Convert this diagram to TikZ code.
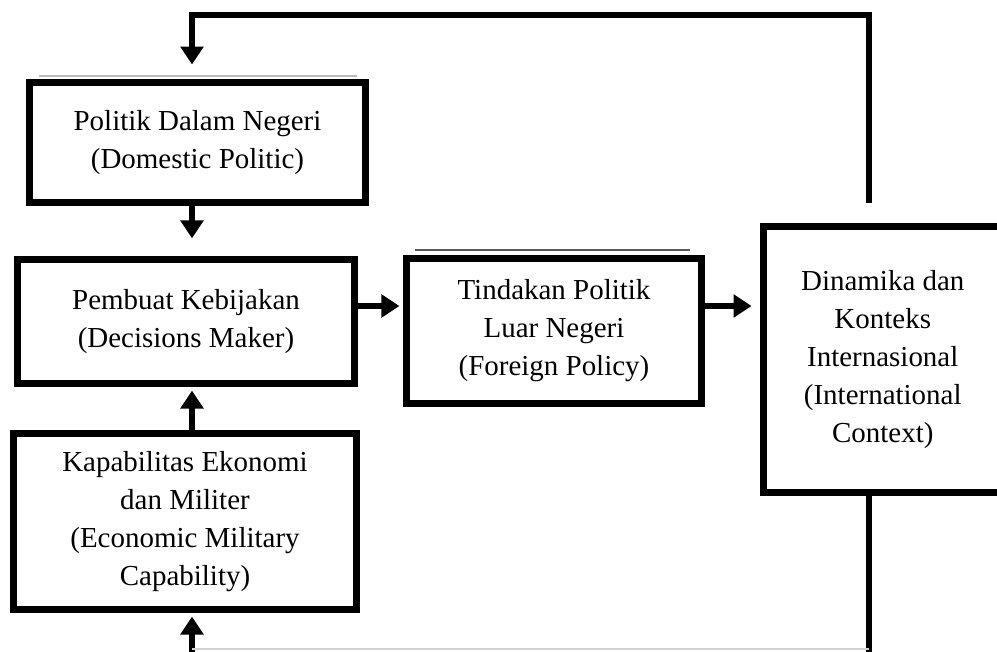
\documentclass[tikz,border=0pt]{standalone}
\usepackage{fontspec}
\setmainfont{Liberation Serif}
\usetikzlibrary{arrows.meta}

\begin{document}
\begin{tikzpicture}[x=0.025cm, y=-0.025cm,
  box/.style={draw, line width=5pt, align=center, inner sep=0pt,
    font=\fontsize{20.6}{27}\selectfont},
  conn/.style={line width=4.5pt},
  arr/.style={conn, -{Triangle[length=0.45cm, width=0.56cm]}}]

\useasboundingbox (0,0) rectangle (997,651);

\node[box, minimum width=8.4cm, minimum height=3cm] (DN) at (197.5, 142.5)
  {Politik Dalam Negeri\\(Domestic Politic)};
\node[box, minimum width=8.425cm, minimum height=3.1cm] (PK) at (186, 321.5)
  {Pembuat Kebijakan\\(Decisions Maker)};
\node[box, minimum width=7.375cm, minimum height=3.625cm] (TP) at (554, 331)
  {Tindakan Politik\\Luar Negeri\\(Foreign Policy)};
\node[box, minimum width=5.9625cm, minimum height=6.65cm] (DK) at (882.75, 359.5)
  {Dinamika dan\\Konteks\\Internasional\\(International\\Context)};
\node[box, minimum width=8.575cm, minimum height=4.4cm] (KE) at (185, 521.5)
  {Kapabilitas Ekonomi\\dan Militer\\(Economic Military\\Capability)};

\coordinate (c1) at (192, 0);
\coordinate (c2) at (869, 0);
\coordinate (r1) at (0, 306);
\coordinate (fb) at (869, 203);
\coordinate (ftop) at (869, 15);
\coordinate (bot) at (0, 655);
\coordinate (fl) at (0, 649);

\draw[gray!55, line width=1pt] (39, 76) -- (357, 76);
\draw[black!65, line width=2pt] (415, 250) -- (690, 250);

\draw[arr, shorten >=0.36cm] (fb) -- (ftop) -| (DN.north -| c1);
\draw[arr, shorten >=0.44cm] (DN.south -| c1) -- (PK.north -| c1);
\draw[arr, shorten >=0.09cm] (KE.north -| c1) -- (PK.south -| c1);
\draw[arr, shorten >=0.09cm] (PK.east |- r1) -- (TP.west |- r1);
\draw[arr, shorten >=0.21cm] (TP.east |- r1) -- (DK.west |- r1);
\draw[arr, shorten >=0.09cm] (DK.south -| c2) -- (c2 |- bot) -| (KE.south -| c1);
\draw[gray!35, line width=0.8pt] (c1 |- fl) -- (c2 |- fl);

\end{tikzpicture}
\end{document}
